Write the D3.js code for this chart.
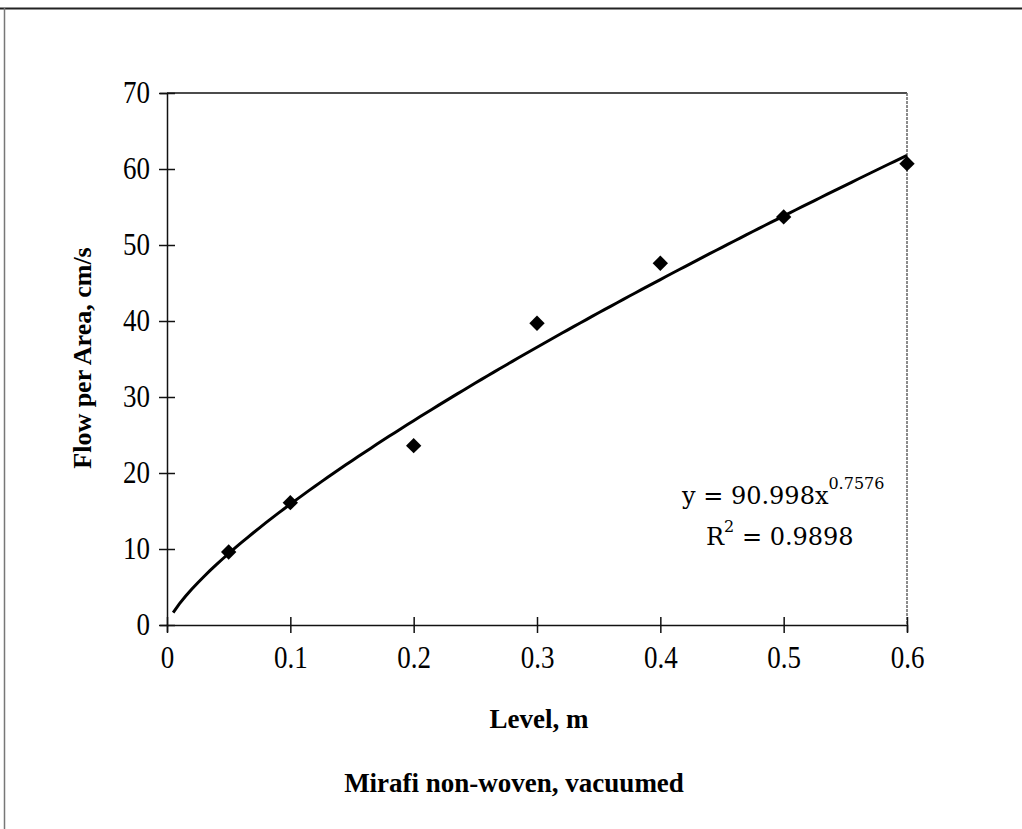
<!DOCTYPE html>
<html>
<head>
<meta charset="utf-8">
<script src="https://cdn.jsdelivr.net/npm/d3@7"></script>
<style>
  body { margin: 0; background: #fff; }
  text { font-family: "Liberation Serif", "Times New Roman", serif; }
</style>
</head>
<body>
<div id="chart"></div>
<script>
// measured points
const levels = [0.05, 0.1, 0.2, 0.3, 0.4, 0.5, 0.6];
const flows = [9.6, 16.1, 23.6, 39.7, 47.6, 53.7, 60.7];
const xTicks = [0, 0.1, 0.2, 0.3, 0.4, 0.5, 0.6];
const yTicks = [0, 10, 20, 30, 40, 50, 60, 70];
// power trendline y = a * x^b
const fitA = 90.998, fitB = 0.7576;
const fitR2 = "0.9898";

const width = 1022, height = 829;
const svg = d3.select("#chart").append("svg")
    .attr("width", width)
    .attr("height", height);

// outer frame (scanned page border)
svg.append("line").attr("x1", 0).attr("x2", width).attr("y1", 8.5).attr("y2", 8.5)
    .attr("stroke", "#222").attr("stroke-width", 2);
svg.append("line").attr("x1", 4.5).attr("x2", 4.5).attr("y1", 8).attr("y2", height)
    .attr("stroke", "#777").attr("stroke-width", 1.5);

const x = d3.scaleLinear().domain([0, 0.6]).range([167, 907]);
const y = d3.scaleLinear().domain([0, 70]).range([625, 93]);

// plot border: top solid, right dotted grey
svg.append("line").attr("x1", x(0)).attr("x2", x(0.6)).attr("y1", y(70)).attr("y2", y(70))
    .attr("stroke", "#111").attr("stroke-width", 1.5);
svg.append("line").attr("x1", x(0.6)).attr("x2", x(0.6)).attr("y1", y(70)).attr("y2", y(0))
    .attr("stroke", "#666").attr("stroke-width", 1.5).attr("stroke-dasharray", "3,1");

// y axis
const yAxis = svg.append("g")
    .attr("transform", `translate(${x(0)},0)`)
    .call(d3.axisLeft(y).tickValues(yTicks).tickSize(7).tickFormat(d3.format("d")));
yAxis.select(".domain").attr("stroke", "#111").attr("stroke-width", 1.5);
yAxis.selectAll(".tick line").attr("x2", 8).attr("x1", -8).attr("stroke", "#111").attr("stroke-width", 1.5);
yAxis.selectAll(".tick text").attr("x", -17).attr("dy", "0.3em").attr("font-size", 27)
    .attr("transform", "scale(1,1.2)")
    .attr("fill", "#000");

// x axis
const xAxis = svg.append("g")
    .attr("transform", `translate(0,${y(0)})`)
    .call(d3.axisBottom(x).tickValues(xTicks).tickSize(7).tickFormat(d => d === 0 ? "0" : d3.format(".1f")(d)));
xAxis.select(".domain").attr("stroke", "#111").attr("stroke-width", 1.5);
xAxis.selectAll(".tick line").attr("y1", -8).attr("y2", 8).attr("stroke", "#111").attr("stroke-width", 1.5);
xAxis.selectAll(".tick text").attr("y", 17).attr("font-size", 27)
    .attr("transform", "scale(1,1.2)")
    .attr("fill", "#000");

// trendline
const fitX = d3.range(0.005, 0.6001, 0.005);
svg.append("path")
    .datum(fitX)
    .attr("fill", "none")
    .attr("stroke", "#000")
    .attr("stroke-width", 3)
    .attr("d", d3.line().x(d => x(d)).y(d => y(fitA * Math.pow(d, fitB))));

// diamonds
svg.append("g")
    .selectAll("path")
    .data(levels)
    .join("path")
    .attr("transform", (d, i) => `translate(${x(d)},${y(flows[i])}) rotate(45)`)
    .attr("d", d3.symbol().type(d3.symbolSquare).size(118))
    .attr("fill", "#000");

// equation (wider serif face, like the original label)
const eq = svg.append("text")
    .attr("x", 682).attr("y", 504)
    .style("font-family", "'DejaVu Serif', serif")
    .attr("font-size", 24).attr("fill", "#000");
eq.append("tspan").text(`y = ${fitA}x`);
eq.append("tspan").attr("dy", -15).attr("font-size", 16).text(fitB);

const r2 = svg.append("text")
    .attr("x", 706).attr("y", 545)
    .style("font-family", "'DejaVu Serif', serif")
    .attr("font-size", 24).attr("fill", "#000");
r2.append("tspan").text("R");
r2.append("tspan").attr("dy", -13).attr("font-size", 16).text("2");
r2.append("tspan").attr("dy", 13).text(` = ${fitR2}`);

// axis titles
svg.append("text")
    .attr("x", 539).attr("y", 728)
    .attr("text-anchor", "middle")
    .attr("font-size", 27).attr("font-weight", "bold")
    .text("Level, m");

svg.append("text")
    .attr("transform", "translate(91,358) rotate(-90)")
    .attr("text-anchor", "middle")
    .attr("font-size", 26).attr("font-weight", "bold")
    .text("Flow per Area, cm/s");

svg.append("text")
    .attr("x", 514).attr("y", 792)
    .attr("text-anchor", "middle")
    .attr("font-size", 27).attr("font-weight", "bold")
    .text("Mirafi non-woven, vacuumed");
</script>
</body>
</html>
